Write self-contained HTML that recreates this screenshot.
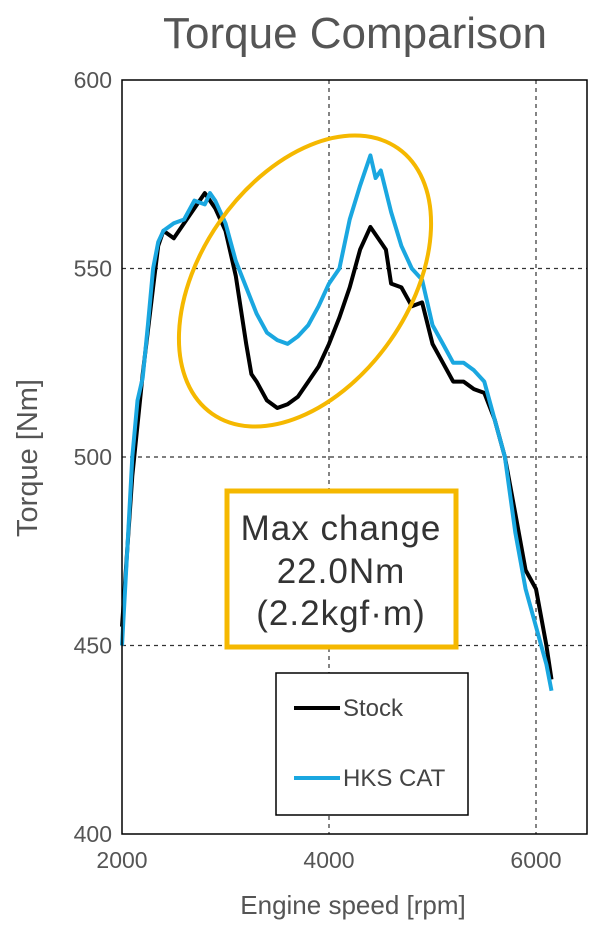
<!DOCTYPE html>
<html><head><meta charset="utf-8"><style>
html,body{margin:0;padding:0;background:#fff;width:600px;height:932px;overflow:hidden}
svg{display:block;font-family:"Liberation Sans",sans-serif}
</style></head><body>
<svg id="chart" width="600" height="932" viewBox="0 0 600 932">
<text x="355" y="48" text-anchor="middle" font-size="44" fill="#555">Torque Comparison</text>
<g id="grid"></g>
<g id="ticks"></g>
<g id="series"></g>
<rect x="122" y="80" width="465" height="754" fill="none" stroke="#000" stroke-width="1.5"/>
<ellipse cx="305" cy="281" rx="162" ry="104" transform="rotate(-55 305 281)" fill="none" stroke="#F5B800" stroke-width="4"/>
<rect x="227" y="491" width="229" height="156" fill="#fff" stroke="#F5B800" stroke-width="5"/>
<g font-size="35" fill="#333" text-anchor="middle" letter-spacing="1">
<text x="341" y="540">Max change</text>
<text x="341" y="583">22.0Nm</text>
<text x="341" y="625">(2.2kgf·m)</text>
</g>
<rect x="276" y="673" width="192" height="142" fill="#fff" stroke="#000" stroke-width="1.5"/>
<line x1="294" y1="708" x2="340" y2="708" stroke="#000" stroke-width="4"/>
<text x="343" y="716" font-size="24" fill="#444">Stock</text>
<line x1="294" y1="778" x2="340" y2="778" stroke="#1AA7E0" stroke-width="4"/>
<text x="343" y="786" font-size="24" fill="#444">HKS CAT</text>
<text x="353" y="914" text-anchor="middle" font-size="26" fill="#555">Engine speed [rpm]</text>
<text transform="translate(37 458) rotate(-90)" text-anchor="middle" font-size="29" fill="#555">Torque [Nm]</text>
</svg>
<script>
const xTicks=[2000,4000,6000];
const yTicks=[400,450,500,550,600];
const rpmStock=[2000,2100,2200,2300,2350,2400,2500,2600,2700,2800,2900,3000,3100,3200,3250,3300,3400,3500,3600,3700,3800,3900,4000,4100,4200,4300,4400,4500,4550,4600,4700,4800,4900,5000,5100,5200,5300,5400,5500,5600,5700,5800,5900,6000,6100,6150];
const torqueStock=[455,495,522,545,556,560,558,562,566,570,566,560,548,530,522,520,515,513,514,516,520,524,530,537,545,555,561,557,555,546,545,540,541,530,525,520,520,518,517,510,500,485,470,465,450,441];
const rpmHks=[2000,2050,2100,2150,2200,2250,2300,2350,2400,2500,2600,2700,2800,2850,2900,3000,3100,3200,3300,3400,3500,3600,3700,3800,3900,4000,4100,4200,4300,4400,4450,4500,4600,4700,4800,4900,5000,5100,5200,5300,5400,5500,5600,5700,5800,5900,6000,6100,6150];
const torqueHks=[450,475,500,515,521,535,550,557,560,562,563,568,567,570,568,562,552,545,538,533,531,530,532,535,540,546,550,563,572,580,574,576,565,556,550,547,535,530,525,525,523,520,510,500,480,465,455,445,438];
const NS="http://www.w3.org/2000/svg";
const X=v=>122+(v-2000)*207/2000;
const Y=v=>834-(v-400)*754/200;
const grid=document.getElementById('grid'),ticks=document.getElementById('ticks'),series=document.getElementById('series');
function mk(t,a,p){const e=document.createElementNS(NS,t);for(const k in a)e.setAttribute(k,a[k]);p.appendChild(e);return e;}
xTicks.forEach(v=>{
  if(v>2000){const l=mk('line',{x1:X(v),x2:X(v),y1:80,y2:834,stroke:'#333','stroke-width':1.2,'stroke-dasharray':'4 4'},grid);
  
  }
  const t=mk('text',{x:X(v),y:868,'text-anchor':'middle','font-size':23,fill:'#555'},ticks);t.textContent=v;
  
  
});
yTicks.forEach(v=>{
  if(v>400&&v<600){const l=mk('line',{x1:122,x2:587,y1:Y(v),y2:Y(v),stroke:'#333','stroke-width':1.2,'stroke-dasharray':'4 4'},grid);
  
  }
  const t=mk('text',{x:112,y:Y(v)+8,'text-anchor':'end','font-size':23,fill:'#555'},ticks);t.textContent=v;
  
  
});
function line(xs,ys,c,name){
  const d=xs.map((x,i)=>(i?'L':'M')+X(x).toFixed(1)+' '+Y(ys[i]).toFixed(1)).join(' ');
  const p=mk('path',{d:d,fill:'none',stroke:c,'stroke-width':4,'stroke-linejoin':'round'},series);
  
  
}
line(rpmStock,torqueStock,'#000','stock-line');
line(rpmHks,torqueHks,'#1AA7E0','hks-cat-line');
</script>
</body></html>
